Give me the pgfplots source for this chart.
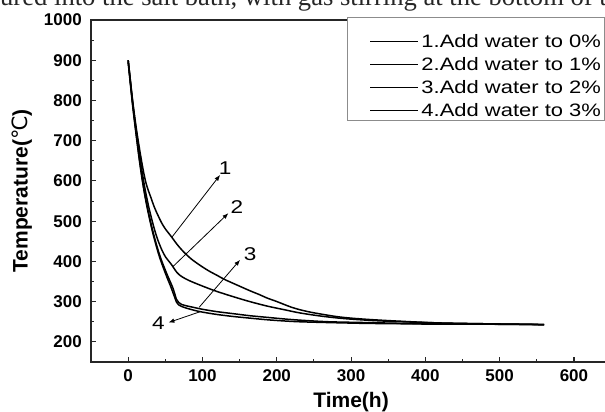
\documentclass[border=0pt]{standalone}
\usepackage{fontspec}
\setmainfont{Liberation Sans}
\newfontfamily\seriffont{Liberation Serif}
\newfontfamily\legfont[FakeStretch=1.22]{Liberation Sans}
\newfontfamily\degfont{DejaVu Sans}
\usepackage{pgfplots}
\pgfplotsset{compat=1.18}
\usetikzlibrary{arrows.meta}

\begin{document}
\begin{tikzpicture}[x=1pt,y=1pt]
\useasboundingbox (0,0) rectangle (605,412);
\clip (0,0) rectangle (605,412);
% cut-off line of body text above the figure
\node[anchor=base west,inner sep=0pt,text=black!85] at (0,406)
  {\seriffont\fontsize{26.6}{26.6}\selectfont ured into the salt bath, with gas stirring at the bottom of t};
\begin{axis}[
  at={(91pt,50pt)}, anchor=south west, scale only axis,
  width=520.1pt, height=342pt,
  xmin=-50, xmax=650, ymin=150, ymax=1000,
  xtick={0,100,...,600}, ytick={200,300,...,1000},
  minor x tick num=1, minor y tick num=1,
  tick align=inside, xtick pos=left, ytick pos=left,
  major tick length=5pt, minor tick length=3pt,
  axis line style={line width=1.3pt, black!85},
  every tick/.style={line width=1.1pt, black!85},
  /pgf/number format/assume math mode=true,
  /pgf/number format/1000 sep={},
  ticklabel style={font=\fontsize{17}{17}\selectfont\bfseries},
  yticklabel style={anchor=east, inner sep=0pt, xshift=-9pt},
  xticklabel style={anchor=north, inner sep=0pt, yshift=-7.5pt},
  xlabel={Time(h)},
  ylabel={Temperature({\degfont\mdseries ℃})},
  every axis x label/.style={at={(axis description cs:0.5,0)}, anchor=base, yshift=-45.5pt, font=\fontsize{21}{21}\selectfont\bfseries},
  every axis y label/.style={at={(axis description cs:-0.1217,0.5)}, rotate=90, anchor=base, font=\fontsize{21}{21}\selectfont\bfseries},
  legend style={at={(axis description cs:0.4922,1.0079)}, anchor=north west,
    draw=black!45, line width=1pt, fill=white, inner xsep=4pt, inner ysep=0pt,
    row sep=-11pt, font=\legfont\fontsize{18}{18}\selectfont,
    cells={anchor=base west}, nodes={inner sep=0pt, text height=30pt, text depth=4pt}},
  legend image code/.code={\path[draw=none,fill=none] (0pt,0pt) rectangle (70pt,6pt); \draw[#1,line width=1.5pt] (19pt,6.5pt) -- (67pt,6.5pt);},
]
\addplot[black, line width=1.5pt, smooth, tension=0.5] coordinates {
(0,900) (3,850) (6,800) (9,757) (12,718) (15,683) (18,650) (21,620) (24,595) (27,577)
(30,562) (35,536) (40,515) (45,496) (50,481) (58.8,460) (66,442) (74,425) (85,406)
(97,390) (108,377) (119,366) (130,355) (142,345) (153,336) (164,327) (176,318) (187,309)
(199,301) (210,293) (220,286) (231,280) (245,274) (260,269) (280,263) (300,259) (330,255)
(370,251) (420,247) (480,245) (560,243)};
\addlegendentry{1.Add water to 0\%}
\addplot[black, line width=1.5pt, smooth, tension=0.5] coordinates {
(0,900) (3,848) (6,797) (9,752) (12,710) (15,670) (18,632) (21,598) (24,568) (28,533)
(32,503) (36,476) (40,453) (45,430) (50,412) (55,400) (58.8,391) (62,382) (65.5,373)
(70,365) (77,357) (85,350) (97,341) (108,333) (120,325) (142,312) (164,300) (187,289)
(210,280) (231,272) (260,264) (290,258) (330,253) (370,250) (420,247) (480,245) (560,243)};
\addlegendentry{2.Add water to 1\%}
\addplot[black, line width=1.5pt, smooth, tension=0.5] coordinates {
(0,900) (3,845) (6,792) (9,745) (12,700) (15,657) (18,618) (21,583) (25,543) (29,508)
(33,477) (37,449) (41,424) (45,402) (49,383) (53,365) (57,348) (60,335) (63,318) (65,306)
(68,298) (72,293) (80,289) (90,285) (100,281) (120,275) (142,270) (164,265) (187,261)
(210,257) (231,254) (270,250) (320,248) (370,246) (420,245) (480,244) (560,243)};
\addlegendentry{3.Add water to 2\%}
\addplot[black, line width=1.5pt, smooth, tension=0.5] coordinates {
(0,895) (3,841) (6,788) (9,741) (12,696) (15,653) (18,614) (21,579) (25,539) (29,504)
(33,472) (37,444) (41,418) (45,396) (49,376) (53,357) (57,339) (60,324) (63,309) (65,299)
(68,292) (72,288) (80,283) (90,278) (100,274) (120,268) (142,263) (164,259) (187,255)
(210,252) (231,250) (270,248) (320,246) (370,245) (420,244) (480,244) (560,243)};
\addlegendentry{4.Add water to 3\%}
% curve labels with arrows
\draw[line width=0.8pt, -{Latex[length=6pt,width=4.5pt]}] (axis cs:58.8,460) -- (axis cs:123.8,615);
\draw[line width=0.8pt, -{Latex[length=6pt,width=4.5pt]}] (axis cs:60.2,387) -- (axis cs:135,520);
\draw[line width=0.8pt, -{Latex[length=6pt,width=4.5pt]}] (axis cs:95.6,286) -- (axis cs:150.7,404);
\draw[line width=0.8pt, -{Latex[length=6pt,width=4.5pt]}] (axis cs:96.9,275) -- (axis cs:54.2,248);
\node[font=\legfont\fontsize{18.5}{18.5}\selectfont] at (axis cs:130.5,632) {1};
\node[font=\legfont\fontsize{18.5}{18.5}\selectfont] at (axis cs:146.3,536) {2};
\node[font=\legfont\fontsize{18.5}{18.5}\selectfont] at (axis cs:164.2,419) {3};
\node[font=\legfont\fontsize{18.5}{18.5}\selectfont] at (axis cs:40.8,246) {4};
\end{axis}
\end{tikzpicture}
\end{document}
